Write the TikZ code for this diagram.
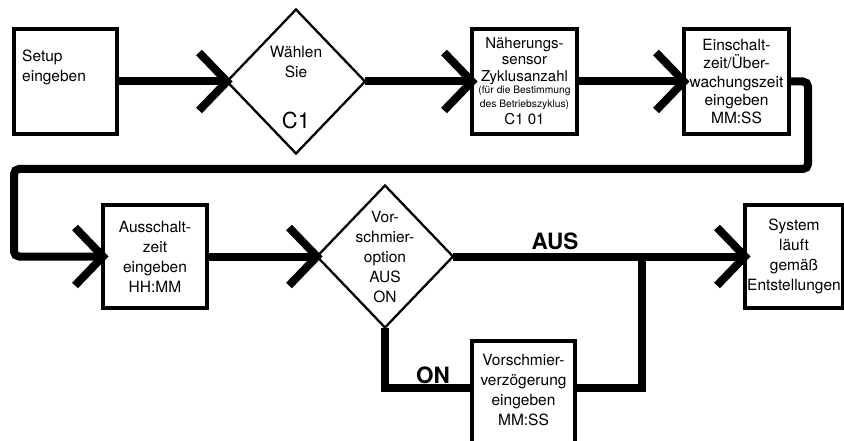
\documentclass[tikz,border=0pt]{standalone}
\usepackage{fontspec}
\setmainfont{TeX Gyre Heros}
\usetikzlibrary{shapes.geometric,calc}
\newcommand\mychev[1]{\draw[chevst] ($(#1)+(-28,-29)$) -- (#1) -- ($(#1)+(-28,29)$);}
\begin{document}
\begin{tikzpicture}[x=1pt,y=-1pt,
  box/.style={draw, line width=3.5pt, rectangle, inner sep=0pt, outer sep=0pt, align=center, font=\fontsize{15.5}{20}\selectfont},
  dia/.style={draw, line width=2.3pt, diamond, inner sep=0pt, outer sep=0pt},
  conn/.style={line width=8pt},
  chevst/.style={line width=8pt, miter limit=10},
  txt/.style={inner sep=0pt, align=center, font=\fontsize{15.5}{20}\selectfont},
  lbl/.style={inner sep=0pt, font=\bfseries\fontsize{22.5}{24}\selectfont}]
\useasboundingbox (0,0) rectangle (844,441);
\clip (0,0) rectangle (844,441);
% top row
\node[box, minimum width=103pt, minimum height=105pt] (setup) at (65.5,81.5) {};
\node[txt, anchor=north west, align=left] (setupT) at (22,50) {Setup\\eingeben};
\node[dia, minimum width=138pt, minimum height=144pt] (d1) at (296,81.5) {};
\node[txt] (d1T) at (296,62) {Wählen\\Sie};
\node[inner sep=0pt, font=\fontsize{22}{24}\selectfont] (d1C) at (296,120) {C1};
\node[box, minimum width=105pt, minimum height=105pt, font=\fontsize{15}{17}\selectfont] (b2) at (524.5,81.5)
  {Näherungs-\\[-1pt]sensor\\Zyklusanzahl\\[-5pt]{\fontsize{10.3}{11}\selectfont (für die Bestimmung}\\[-3pt]{\fontsize{10.3}{11}\selectfont des Betriebszyklus)}\\C1 01};
\node[box, minimum width=105pt, minimum height=105pt, font=\fontsize{15.5}{18.3}\selectfont] (b3) at (736.5,81.5)
  {Einschalt-\\zeit/Über-\\wachungszeit\\eingeben\\MM:SS};
% second row
\node[box, minimum width=104pt, minimum height=103pt] (b4) at (155,256.5) {Ausschalt-\\zeit\\eingeben\\HH:MM};
\node[dia, minimum width=136pt, minimum height=142pt] (d2) at (385,256.5) {};
\node[txt] (d2T) at (385,257) {Vor-\\schmier-\\option\\AUS\\ON};
\node[box, minimum width=98pt, minimum height=103pt] (sys) at (794,256.5) {System\\läuft\\gemäß\\Entstellungen};
\node[box, minimum width=103pt, minimum height=110pt, anchor=north] (vb) at (523.5,341) {};
\node[txt] (vbT) at (523.5,390) {Vorschmier-\\verzögerung\\eingeben\\MM:SS};
\coordinate (jn) at (642,256.5);
% connectors
\draw[conn] (setup.east) -- (d1.west);
\draw[conn] (d1.east) -- (b2.west);
\draw[conn] (b2.east) -- (b3.west);
\draw[conn, rounded corners=5pt] (b3.east) -- ++(19,0) |- (14,169) |- (b4.west);
\draw[conn] (b4.east) -- (d2.west);
\draw[conn] (d2.east) -- (sys.west);
\draw[conn] (d2.south) |- ([yshift=8pt]vb.west);
\draw[conn] ([yshift=8pt]vb.east) -| (jn);
\node[lbl] (aus) at (555,241) {AUS};
\node[lbl] (on) at (433,375.5) {ON};
% arrowheads
\mychev{d1.west}
\mychev{b2.west}
\mychev{b3.west}
\mychev{b4.west}
\mychev{d2.west}
\mychev{sys.west}
\end{tikzpicture}
\end{document}
